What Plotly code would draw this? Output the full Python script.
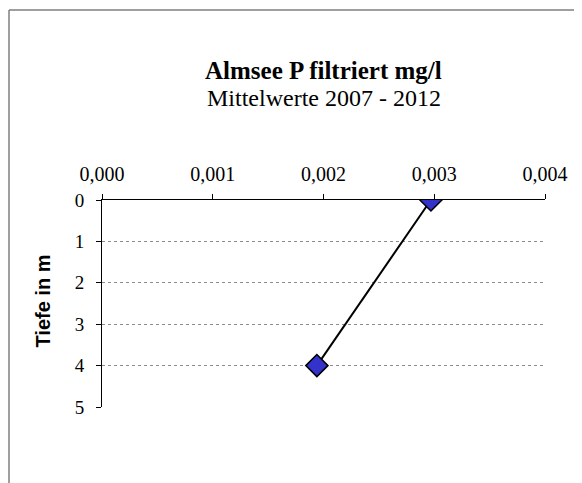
import plotly.graph_objects as go

# Daten
p_filtriert = [0.00297, 0.00194]
tiefe = [0, 4]
x_ticks = [0, 0.001, 0.002, 0.003, 0.004]
y_ticks = [0, 1, 2, 3, 4, 5]

# Seite hat 8px body-margin -> Figur etwas kleiner
OFF = 8
W, H = 582 - OFF, 483 - OFF
L, R, T, B = 102 - OFF, 582 - 545, 200 - OFF, 483 - 407
pw, ph = W - L - R, H - T - B


def px_x(x):
    # Seitenpixel -> paper
    return (x - OFF - L) / pw


def px_y(y):
    return (H - B - (y - OFF)) / ph


fig = go.Figure()
fig.add_trace(go.Scatter(
    x=p_filtriert, y=tiefe,
    mode='lines+markers',
    line=dict(color='black', width=2),
    marker=dict(symbol='diamond', size=17, color='#3333CC',
                line=dict(color='black', width=1.5)),
    showlegend=False, hoverinfo='skip'
))

fig.update_layout(
    width=W, height=H,
    margin=dict(l=L, r=R, t=T, b=B),
    paper_bgcolor='white', plot_bgcolor='white',
    separators=',.',
    font=dict(family='Liberation Serif, Times New Roman, serif', size=19, color='black'),
    showlegend=False,
)
fig.update_xaxes(
    side='top', range=[0, 0.004], tickvals=x_ticks, tickformat='.3f',
    tickfont=dict(size=20), ticklabelstandoff=5,
    showline=True, linecolor='black', linewidth=1,
    ticks='outside', ticklen=5, tickcolor='black',
    showgrid=False, zeroline=False,
)
fig.update_yaxes(
    range=[5, 0], tickvals=y_ticks,
    tickfont=dict(size=19), ticklabelstandoff=8,
    showline=True, linecolor='black', linewidth=1,
    ticks='outside', ticklen=5, tickcolor='black',
    showgrid=True, gridcolor='#8c8c8c', griddash='dot', gridwidth=1,
    zeroline=False,
)

# Titel
fig.add_annotation(x=0.5, y=px_y(71), xref='paper', yref='paper',
                   text='<b>Almsee P filtriert mg/l</b>', showarrow=False,
                   font=dict(size=25), xanchor='center', yanchor='middle')
fig.add_annotation(x=0.5, y=px_y(98), xref='paper', yref='paper',
                   text='Mittelwerte 2007 - 2012', showarrow=False,
                   font=dict(size=24), xanchor='center', yanchor='middle')
fig.add_annotation(x=px_x(42.5), y=px_y(301), xref='paper', yref='paper',
                   text='<b>Tiefe in m</b>', showarrow=False, textangle=-90,
                   font=dict(family='Liberation Sans, Arial, sans-serif', size=20),
                   xanchor='center', yanchor='middle')

# Rahmen
rahmen = dict(color='#7f7f7f', width=1.5)
fig.add_shape(type='line', xref='paper', yref='paper',
              x0=px_x(9), x1=px_x(600), y0=px_y(10), y1=px_y(10), line=rahmen)
fig.add_shape(type='line', xref='paper', yref='paper',
              x0=px_x(9), x1=px_x(9), y0=px_y(10), y1=px_y(500), line=rahmen)

fig.write_html("out.html")
